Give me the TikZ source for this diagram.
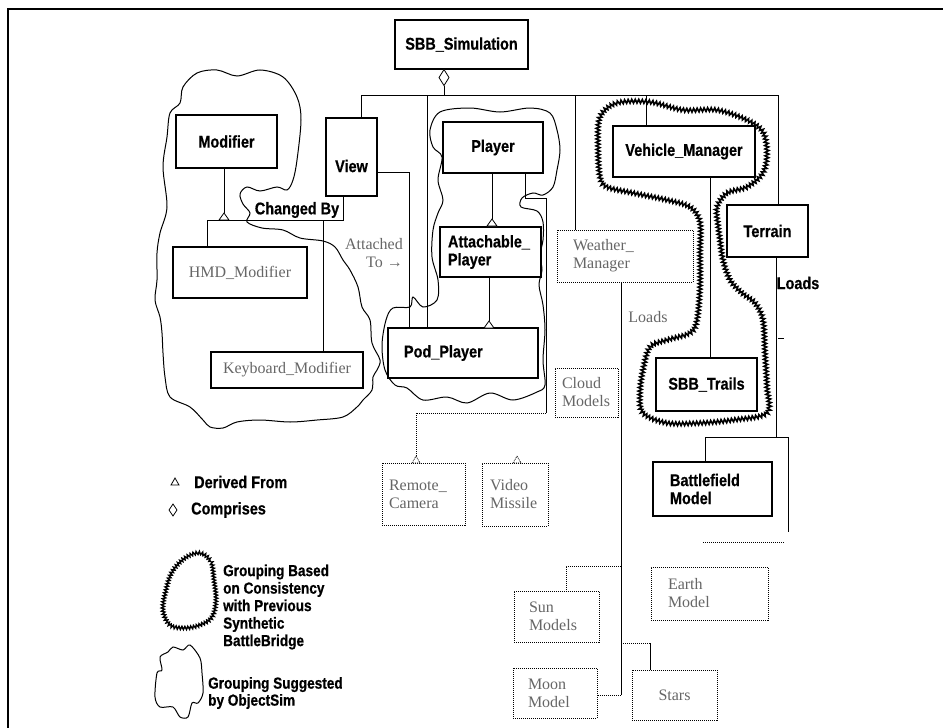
\documentclass[tikz,border=0pt]{standalone}
\usepackage{fontspec}
\usetikzlibrary{decorations.pathmorphing}
\newfontfamily\lblfam{Liberation Sans}[FakeStretch=0.85, BoldFeatures={FakeBold=0.6}]
\newfontfamily\grfam{Liberation Serif}
\newcommand\lblf{\lblfam\bfseries\fontsize{17}{18}\selectfont}
\newcommand\greyf{\grfam\fontsize{16}{18}\selectfont}
\tikzset{
  box/.style={draw, line width=1.1pt, inner sep=0pt, font=\lblf, fill=white},
  dbox/.style={draw, line width=0.9pt, dash pattern=on 1pt off 1pt, inner sep=0pt, font=\greyf, text=black!60, fill=white},
  conn/.style={line width=0.9pt},
  dconn/.style={line width=0.9pt, dash pattern=on 1pt off 1pt},
  tri/.style={line width=0.8pt, fill=white},
  dtri/.style={line width=0.7pt, dash pattern=on 1pt off 1pt},
  oscloud/.style={line width=1pt},
  cbcloud/.style={line width=1.6pt, decorate, decoration={zigzag, segment length=3.5pt, amplitude=1.9pt}},
  lbl/.style={inner sep=0pt, font=\lblf},
  glbl/.style={inner sep=0pt, font=\greyf, text=black!60},
}
\begin{document}
\begin{tikzpicture}[x=1pt,y=-1pt]
\useasboundingbox (0,0) rectangle (943,728);
% frame
\draw[line width=1.2pt] (8,728) -- (8,9) -- (943,9);

% clouds
\draw[oscloud] plot[smooth cycle, tension=0.55] coordinates {
 (217,70) (237,76) (260,70) (283,77) (297,97) (301,120) (297,160) (293,180) (287,190)
 (277,187) (260,191) (247,187) (240,194) (243,204) (250,213) (247,222) (262,228) (283,230)
 (300,238) (323,241) (335,247) (343,260) (350,270) (358,287) (362,307) (370,320) (372,343)
 (380,360) (377,370) (373,377) (372,390) (363,400) (357,407) (343,417) (317,420) (290,422)
 (260,420) (237,422) (223,428) (210,427) (203,420) (190,407) (170,397) (165,377) (163,353)
 (162,333) (160,317) (155,300) (157,280) (157,253) (160,233) (167,207) (163,167) (167,137)
 (170,113) (180,103) (183,87) (197,73)};
\draw[oscloud] plot[smooth cycle, tension=0.55] coordinates {
 (440,112) (470,108) (500,112) (530,108) (550,113) (557,130) (560,150) (557,170) (553,187)
 (543,195) (533,193) (522,198) (521,207) (537,211) (543,222) (543,240) (540,255) (542,270)
 (539,285) (543,305) (545,330) (543,360) (545,385) (537,392) (513,400) (490,393) (467,403)
 (447,397) (423,400) (407,388) (395,385) (385,370) (382,345) (386,320) (393,308) (410,307)
 (413,297) (423,307) (437,300) (438,280) (432,257) (433,230) (438,213) (443,200) (438,180)
 (442,157) (433,147) (430,130)};
\draw[cbcloud] plot[smooth cycle, tension=0.55] coordinates {
 (600,117) (617,103) (650,102) (683,110) (717,110) (747,120) (763,132) (767,153) (763,173)
 (747,187) (727,193) (717,207) (718,225) (720,240) (723,260) (730,280) (742,293) (755,303)
 (763,320) (765,353) (767,387) (767,413) (733,420) (700,423) (667,423) (643,413) (640,393)
 (643,370) (650,347) (667,340) (690,333) (697,320) (700,287) (700,253) (700,222) (690,207)
 (667,200) (633,193) (607,187) (600,177) (598,147)};

% coordinates for junctions
\coordinate (busL) at (361,95);
\coordinate (busR) at (778,95);
\coordinate (busD) at (444,95);
\coordinate (busP) at (427,95);
\coordinate (busW) at (575,95);
\coordinate (busV) at (646,95);
\coordinate (vj) at (409,172);
\coordinate (mt) at (224,213);
\coordinate (mL) at (207,220);
\coordinate (mR) at (343,220);
\coordinate (mK) at (323,220);
\coordinate (pt) at (492,219);
\coordinate (at) at (489,321);
\coordinate (ps1) at (525,198);
\coordinate (ps2) at (546,198);
\coordinate (ps3) at (546,413);
\coordinate (ps4) at (416,413);
\coordinate (rt) at (416,456);
\coordinate (vt) at (517,456);
\coordinate (vx) at (710,0);
\coordinate (tl) at (776,437);
\coordinate (tlL) at (705,437);
\coordinate (tlR) at (788,437);
\coordinate (tlE) at (788,532);
\coordinate (dA) at (703,542);
\coordinate (dB) at (785,542);
\coordinate (w0) at (621,0);
\coordinate (w1) at (621,566);
\coordinate (w2) at (621,643);
\coordinate (w3) at (621,695);
\coordinate (s1) at (566,566);
\coordinate (s2) at (650,643);
\coordinate (tk1) at (778,338);
\coordinate (tk2) at (784,338);

% solid boxes
\node[box, minimum width=133pt, minimum height=49pt] (sim) at (461.5,44.5) {SBB\_Simulation};
\node[box, minimum width=101pt, minimum height=53pt] (modifier) at (226.5,141.5) {Modifier};
\node[box, minimum width=51pt, minimum height=78pt] (view) at (351.5,157) {};
\node[lbl] (viewt) at (351.5,166) {View};
\node[box, minimum width=100pt, minimum height=51pt] (player) at (493,147.5) {Player};
\node[box, minimum width=101pt, minimum height=50pt, text width=85pt, align=left] (attach) at (490.5,252) {Attachable\_\\Player};
\node[box, minimum width=150pt, minimum height=50pt, text width=118pt, align=left] (pod) at (463,353) {Pod\_Player};
\node[box, minimum width=142pt, minimum height=51pt] (vehicle) at (684,151.5) {Vehicle\_Manager};
\node[box, minimum width=81pt, minimum height=52pt] (terrain) at (767.5,231) {Terrain};
\node[box, minimum width=101pt, minimum height=53pt] (trails) at (706.5,384.5) {SBB\_Trails};
\node[box, minimum width=119pt, minimum height=54pt, text width=85pt, align=left] (battle) at (712.5,489) {Battlefield\\Model};

% grey boxes
\node[box, font=\greyf, text=black!60, minimum width=134pt, minimum height=51pt] (hmd) at (240,272.5) {HMD\_Modifier};
\node[box, font=\greyf, text=black!60, minimum width=152pt, minimum height=36pt] (keyboard) at (287,370) {Keyboard\_Modifier};

% dotted boxes
\node[dbox, minimum width=136pt, minimum height=52pt, text width=104pt, align=left] (weather) at (625,256) {Weather\_\\Manager};
\node[dbox, minimum width=63pt, minimum height=49pt, text width=49pt, align=left] (cloudm) at (586.5,392.5) {Cloud\\Models};
\node[dbox, minimum width=83pt, minimum height=62pt, text width=69pt, align=left] (remote) at (423.5,494) {Remote\_\\Camera};
\node[dbox, minimum width=66pt, minimum height=63pt, text width=50pt, align=left] (vivo) at (515,494.5) {Video\\Missile};
\node[dbox, minimum width=117pt, minimum height=53pt, text width=83pt, align=left] (earth) at (709.5,593.5) {Earth\\Model};
\node[dbox, minimum width=85pt, minimum height=51pt, text width=55pt, align=left] (sun) at (556.5,616.5) {Sun\\Models};
\node[dbox, minimum width=84pt, minimum height=50pt, text width=54pt, align=left] (moon) at (555,693) {Moon\\Model};
\node[dbox, minimum width=85pt, minimum height=50pt] (stars) at (674.5,695) {Stars};

% connectors
\draw[conn] (busL) -- (busR);
\draw[conn] (busL) -- (view.north -| busL);
\draw[conn] (busP) -- (pod.north -| busP);
\draw[conn] (busW) -- (weather.north -| busW);
\draw[conn] (busV) -- (vehicle.north -| busV);
\draw[conn] (busR) -- (terrain.north -| busR);
\draw[tri] (sim.south -| busD) -- ++(5,8) -- ++(-5,8) -- ++(-5,-8) -- cycle;
\draw[conn] (sim.south -| busD) ++(0,16) -- (busD);

\draw[conn] (view.east |- vj) -- (vj) -- (pod.north -| vj);

\draw[conn] (modifier.south -| mt) -- (mt);
\draw[tri] (mt) -- ++(5,7) -- ++(-10,0) -- cycle;
\draw[conn] (mL) -- (mR) -- (view.south -| mR);
\draw[conn] (mL) -- (hmd.north -| mL);
\draw[conn] (mK) -- (keyboard.north -| mK);

\draw[conn] (player.south -| pt) -- (pt);
\draw[tri] (pt) -- ++(5,7) -- ++(-10,0) -- cycle;
\draw[conn] (attach.south -| at) -- (at);
\draw[tri] (at) -- ++(5,7) -- ++(-10,0) -- cycle;

\draw[conn] (player.south -| ps1) -- (ps1) -- (ps2) -- (ps3);
\draw[dconn] (ps3) -- (ps4) -- (rt);
\draw[dtri] (rt) -- ++(4,7) -- ++(-8,0) -- cycle;
\draw[dtri] (vt) -- ++(4,7) -- ++(-8,0) -- cycle;

\draw[conn] (vehicle.south -| vx) -- (trails.north -| vx);

\draw[conn] (terrain.south -| tl) -- (tl);
\draw[conn] (tlL) -- (tlR) -- (tlE);
\draw[conn] (tlL) -- (battle.north -| tlL);
\draw[dconn] (dA) -- (dB);
\draw[line width=0.8pt] (tk1) -- (tk2);

\draw[conn] (weather.south -| w0) -- (w3);
\draw[dconn] (w1) -- (s1) -- (sun.north -| s1);
\draw[dconn] (w2) -- (s2);
\draw[conn] (s2) -- (stars.north -| s2);
\draw[dconn] (w3) -- (moon.east |- w3);

% labels
\node[lbl] (changed) at (297,210) {Changed By};
\node[glbl, anchor=east, align=right] (attached) at (403,253) {Attached\\To →};
\node[glbl] (loads1) at (648,317) {Loads};
\node[lbl] (loads2) at (798,283) {Loads};

% legend
\draw[line width=0.8pt] (175,478) -- (179,485) -- (171,485) -- cycle;
\node[lbl, anchor=west] (lderived) at (194,482) {Derived From};
\draw[line width=0.8pt] (173,504) -- (177,510) -- (173,516) -- (169,510) -- cycle;
\node[lbl, anchor=west] (lcomp) at (191,510) {Comprises};
\draw[line width=1.4pt, decorate, decoration={zigzag, segment length=3pt, amplitude=1.6pt}] plot[smooth cycle, tension=0.6] coordinates {
 (200,553) (211,562) (214,580) (216,600) (212,617) (200,625) (185,628) (170,625) (163,610) (166,590) (172,572) (185,558)};
\node[lbl, anchor=west, align=left, font=\lblfam\bfseries\fontsize{16}{17.5}\selectfont] (lgroup1) at (223,607) {Grouping Based\\on Consistency\\with Previous\\Synthetic\\BattleBridge};
\draw[line width=1pt] plot[smooth cycle, tension=0.5] coordinates {
 (173,647) (183,650) (190,645) (200,658) (202,673) (203,693) (198,703) (192,703) (188,717) (180,717) (173,707) (160,707) (155,697) (157,673) (162,670) (160,657) (168,652)};
\node[lbl, anchor=west, align=left, font=\lblfam\bfseries\fontsize{16}{17}\selectfont] (lgroup2) at (208,693) {Grouping Suggested\\by ObjectSim};
\end{tikzpicture}
\end{document}
